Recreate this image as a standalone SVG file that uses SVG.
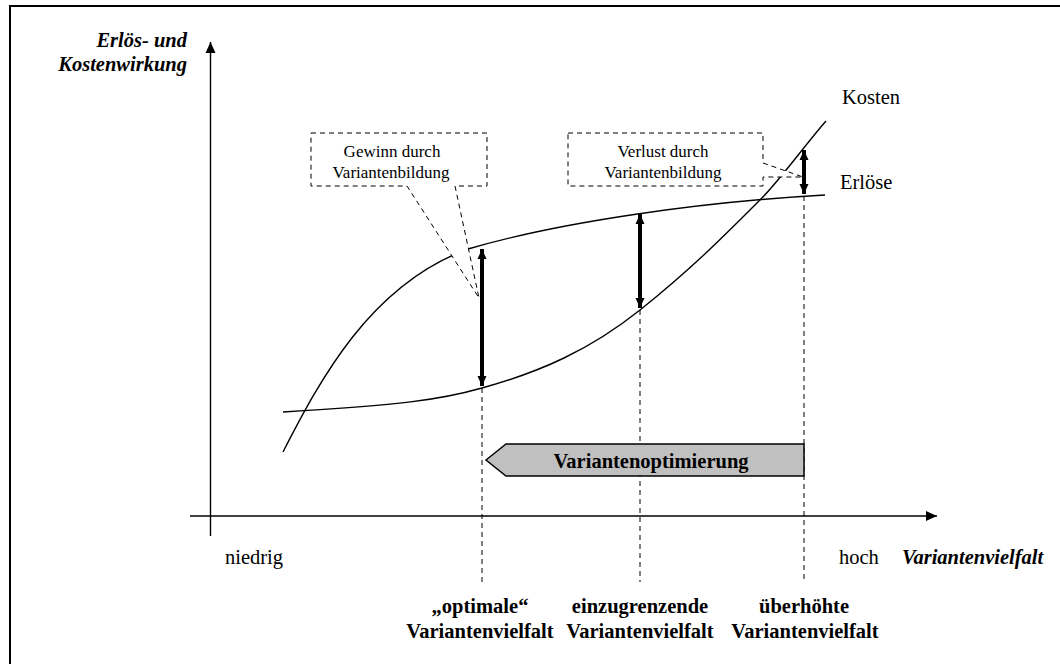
<svg xmlns="http://www.w3.org/2000/svg" width="1060" height="664" viewBox="0 0 1060 664" font-family="Liberation Serif, Times New Roman, DejaVu Serif, serif">
  <style>
    text { font-family: "Liberation Serif", "Times New Roman", "DejaVu Serif", serif; fill: #000; }
    .axis { stroke: #000; stroke-width: 1.4; fill: none; }
    .curve { stroke: #000; stroke-width: 1.4; fill: none; }
    .guide { stroke: #000; stroke-width: 1; stroke-dasharray: 5 4; fill: none; }
    .callout { stroke: #000; stroke-width: 1; stroke-dasharray: 5 4; fill: #fff; }
    .gap { stroke: #000; stroke-width: 4; fill: none; }
    .lbl { font-size: 20.5px; }
    .note { font-size: 17px; }
    .bold { font-weight: bold; }
    .bi { font-weight: bold; font-style: italic; }
  </style>
  <defs>
    <marker id="axisHead" markerUnits="userSpaceOnUse" markerWidth="12" markerHeight="12" refX="11" refY="6" orient="auto">
      <path d="M0,1 L11,6 L0,11 Z" fill="#000"/>
    </marker>
    <marker id="gapHead" markerUnits="userSpaceOnUse" markerWidth="12" markerHeight="10" refX="10" refY="5" orient="auto-start-reverse">
      <path d="M0,0.5 L10,5 L0,9.5 Z" fill="#000"/>
    </marker>
  </defs>

  <rect width="1060" height="664" fill="#fff"/>
  <!-- outer frame -->
  <path d="M10,664 V6 H1062" fill="none" stroke="#000" stroke-width="2"/>

  <!-- axes -->
  <g id="axes">
    <line class="axis" x1="210.5" y1="536" x2="210.5" y2="42" marker-end="url(#axisHead)"/>
    <line class="axis" x1="190" y1="516" x2="937" y2="516" marker-end="url(#axisHead)"/>
    <text class="bi lbl" x="187" y="47" text-anchor="end">Erlös- und</text>
    <text class="bi lbl" x="187" y="71" text-anchor="end">Kostenwirkung</text>
    <text class="lbl" x="225" y="564">niedrig</text>
    <text class="lbl" x="839" y="564">hoch</text>
    <text class="lbl bi" x="902" y="564">Variantenvielfalt</text>
  </g>

  <!-- curves -->
  <g id="curves">
    <path id="erloese" class="curve" d="M283,452 C320,380 370,285 468,249 C560,222 700,202 825,195"/>
    <path id="kosten" class="curve" d="M283,412 C400,405 440,400 482,388 C540,372 590,350 640,310 C690,270 720,240 760,200 C780,180 805,145 826,121"/>
    <text class="lbl" x="842" y="104">Kosten</text>
    <text class="lbl" x="840" y="189">Erlöse</text>
  </g>

  <!-- vertical guide lines -->
  <g id="guides">
    <line class="guide" x1="482" y1="388" x2="482" y2="582"/>
    <line class="guide" x1="640" y1="310" x2="640" y2="582"/>
    <line class="guide" x1="804" y1="196" x2="804" y2="582"/>
  </g>

  <!-- callouts -->
  <g id="callout-gewinn">
    <path class="callout" d="M311,133 H487 V186 H455 L479,298 L407,186 H311 Z"/>
    <text class="note" x="392" y="157" text-anchor="middle">Gewinn durch</text>
    <text class="note" x="391" y="178" text-anchor="middle">Variantenbildung</text>
  </g>
  <g id="callout-verlust">
    <path class="callout" d="M568,133 H763 V163 L803,177 L763,177 V186 H568 Z"/>
    <text class="note" x="663" y="157" text-anchor="middle">Verlust durch</text>
    <text class="note" x="663" y="178" text-anchor="middle">Variantenbildung</text>
  </g>

  <!-- gap arrows between curves -->
  <g id="connectors">
    <line class="gap" x1="482" y1="249" x2="482" y2="386" marker-start="url(#gapHead)" marker-end="url(#gapHead)"/>
    <line class="gap" x1="640" y1="214" x2="640" y2="308" marker-start="url(#gapHead)" marker-end="url(#gapHead)"/>
    <line class="gap" x1="804" y1="150" x2="804" y2="194" marker-start="url(#gapHead)" marker-end="url(#gapHead)"/>
  </g>

  <!-- optimisation banner -->
  <g id="banner">
    <path d="M486,460 L506,444 H804 V476 H506 Z" fill="#c0c0c0" stroke="#000" stroke-width="1.5"/>
    <text class="bold" font-size="20.5" x="651" y="468" text-anchor="middle">Variantenoptimierung</text>
  </g>

  <!-- category labels -->
  <g id="labels">
    <text class="lbl bold" x="480" y="613" text-anchor="middle">„optimale“</text>
    <text class="lbl bold" x="480" y="638" text-anchor="middle">Variantenvielfalt</text>
    <text class="lbl bold" x="640" y="613" text-anchor="middle">einzugrenzende</text>
    <text class="lbl bold" x="640" y="638" text-anchor="middle">Variantenvielfalt</text>
    <text class="lbl bold" x="804" y="613" text-anchor="middle">überhöhte</text>
    <text class="lbl bold" x="805" y="638" text-anchor="middle">Variantenvielfalt</text>
  </g>
</svg>
